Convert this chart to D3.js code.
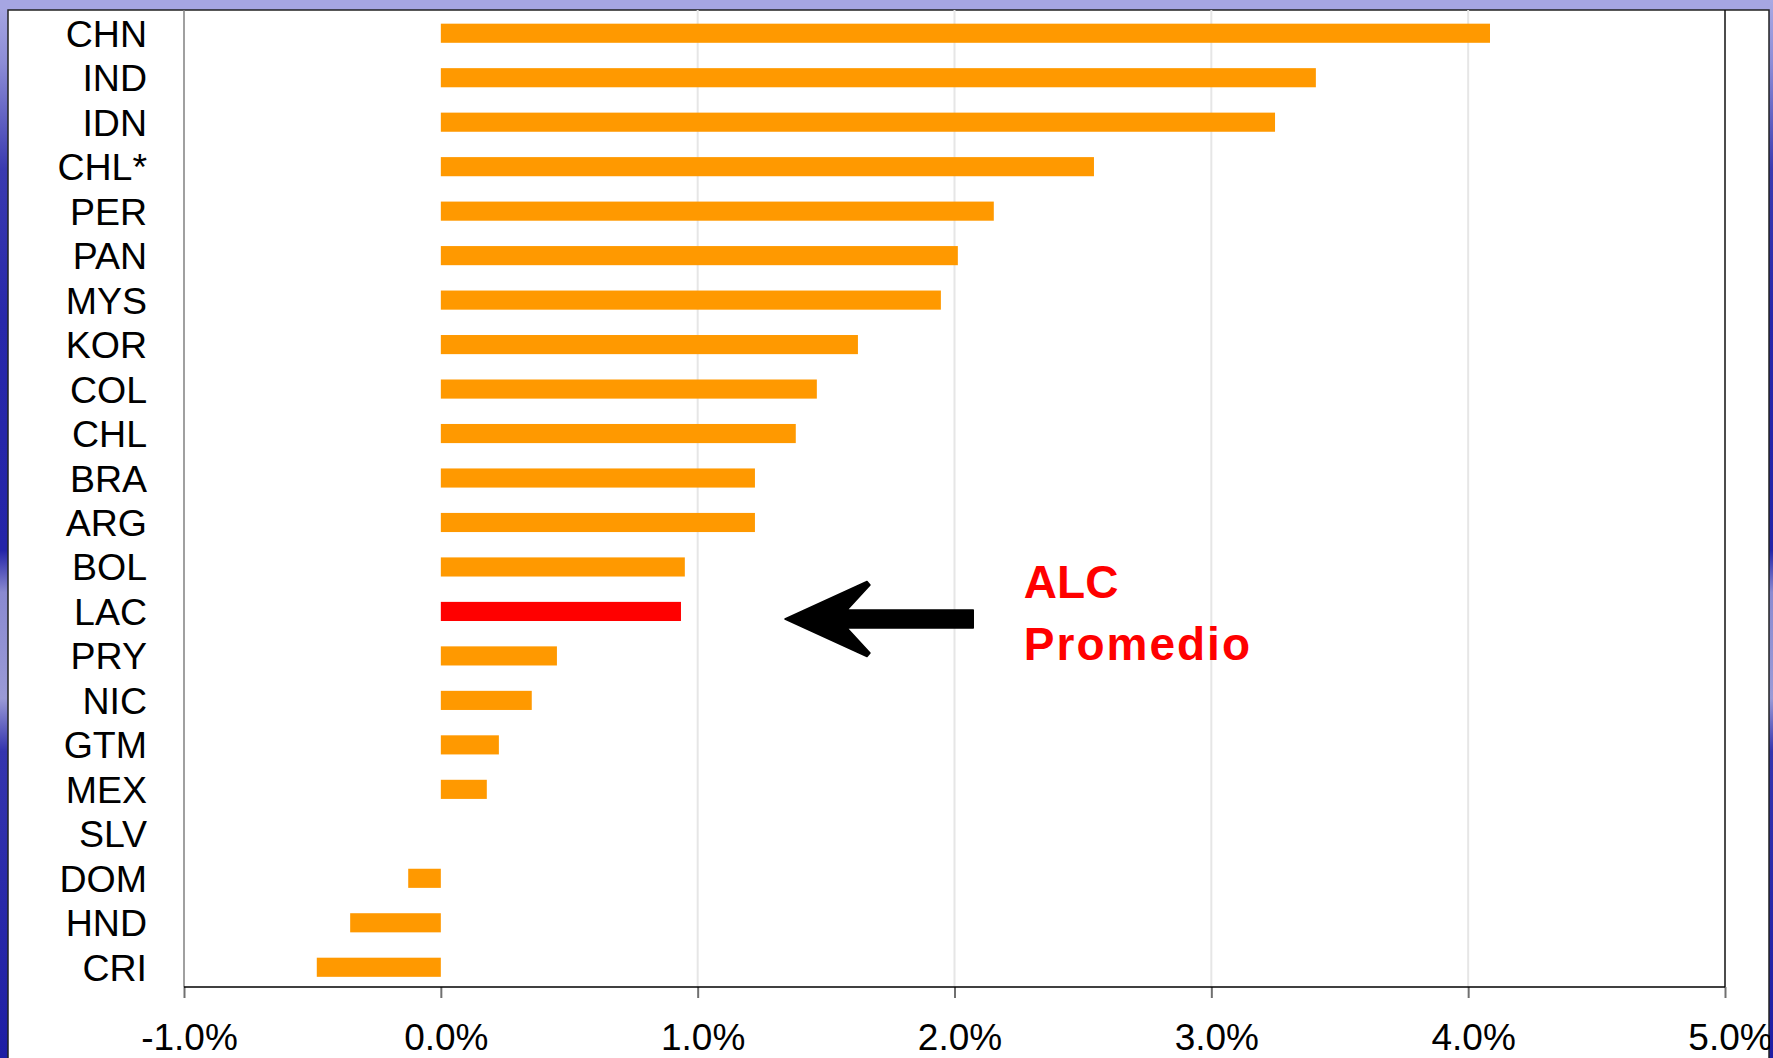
<!DOCTYPE html>
<html>
<head>
<meta charset="utf-8">
<style>
  body { margin: 0; background: #fff; }
  svg { display: block; font-family: "Liberation Sans", Arial, sans-serif; }
  .axis .domain { display: none; }
</style>
</head>
<body>
<div id="chart"></div>
<script src="https://d3js.org/d3.v7.min.js"></script>
<script>
// countries, top to bottom
var countries = ["CHN", "IND", "IDN", "CHL*", "PER", "PAN", "MYS", "KOR", "COL", "CHL", "BRA",
                 "ARG", "BOL", "LAC", "PRY", "NIC", "GTM", "MEX", "SLV", "DOM", "HND", "CRI"];
// growth, percent
var growth = [4.085, 3.407, 3.248, 2.543, 2.153, 2.013, 1.947, 1.624, 1.464, 1.382, 1.223,
              1.223, 0.950, 0.935, 0.452, 0.354, 0.226, 0.179, 0, -0.127, -0.353, -0.483];
var xTicks = [-1, 0, 1, 2, 3, 4, 5];
var highlight = "LAC";
var noteLines = ["ALC", "Promedio"];

var W = 1773, H = 1058;
var plot = { left: 184, right: 1725, top: 11, bottom: 987 };

var data = countries.map(function (c, i) { return { name: c, value: growth[i] }; });

var svg = d3.select("#chart").append("svg")
    .attr("width", W)
    .attr("height", H);

// blue slide background
var defs = svg.append("defs");
var bg = defs.append("linearGradient")
    .attr("id", "bg")
    .attr("x1", 0).attr("y1", 0).attr("x2", 0).attr("y2", 1);
[[0, "#a9a9e3"], [0.06, "#8c8cd6"], [0.16, "#3a3ab0"], [0.3, "#2828aa"], [0.52, "#2424a8"],
 [0.56, "#8a8ad0"], [0.66, "#9a9ad6"], [0.71, "#3434ae"], [1, "#1e1ea4"]].forEach(function (s) {
    bg.append("stop").attr("offset", s[0]).attr("stop-color", s[1]);
});
svg.append("rect").attr("width", W).attr("height", H).attr("fill", "url(#bg)");
svg.append("rect").attr("width", W).attr("height", 10).attr("fill", "#a6a6e2");

// white panel
svg.append("rect")
    .attr("x", 8).attr("y", 10)
    .attr("width", 1761).attr("height", H)
    .attr("fill", "#fff")
    .attr("stroke", "#222")
    .attr("stroke-width", 1.5);

var x = d3.scaleLinear()
    .domain([-1, 5])
    .range([plot.left, plot.right]);

var y = d3.scaleBand()
    .domain(countries)
    .range([plot.top, 989.5])
    .paddingInner(0.57)
    .paddingOuter(0.285);

var g = svg.append("g");

// gridlines
g.selectAll("line.grid")
    .data(xTicks.filter(function (d) { return d > 0 && d < 5; }))
    .enter().append("line")
    .attr("class", "grid")
    .attr("x1", function (d) { return x(d); })
    .attr("x2", function (d) { return x(d); })
    .attr("y1", 10)
    .attr("y2", plot.bottom)
    .attr("stroke", "#e6e6e6")
    .attr("stroke-width", 2);

// bars
g.selectAll("rect.bar")
    .data(data)
    .enter().append("rect")
    .attr("class", "bar")
    .attr("x", function (d) { return x(Math.min(0, d.value)); })
    .attr("y", function (d) { return y(d.name); })
    .attr("width", function (d) { return Math.abs(x(d.value) - x(0)); })
    .attr("height", y.bandwidth())
    .attr("fill", function (d) { return d.name === highlight ? "#ff0000" : "#ff9900"; });

// left and right frame lines
g.append("line")
    .attr("x1", x(-1)).attr("x2", x(-1))
    .attr("y1", 10).attr("y2", plot.bottom)
    .attr("stroke", "#808080").attr("stroke-width", 1.5);
g.append("line")
    .attr("x1", x(5)).attr("x2", x(5))
    .attr("y1", 10).attr("y2", plot.bottom)
    .attr("stroke", "#111").attr("stroke-width", 1.5);

// x axis
var xAxis = d3.axisBottom(x)
    .tickValues(xTicks)
    .tickSize(11)
    .tickFormat(function (d) { return d.toFixed(1) + "%"; });

var xg = svg.append("g")
    .attr("class", "x axis")
    .attr("transform", "translate(0," + plot.bottom + ")")
    .call(xAxis);
xg.selectAll(".tick line").attr("stroke", "#707070").attr("stroke-width", 2);
xg.selectAll(".tick text")
    .attr("y", 63)
    .attr("dy", 0)
    .attr("dx", 5)
    .style("font-size", "37px")
    .attr("fill", "#000");
xg.append("line")
    .attr("x1", x(-1)).attr("x2", x(5))
    .attr("stroke", "#000").attr("stroke-width", 1.5);

// y axis
var yAxis = d3.axisLeft(y).tickSize(0).tickPadding(37);
var yg = svg.append("g")
    .attr("class", "y axis")
    .attr("transform", "translate(" + plot.left + ",0)")
    .call(yAxis);
yg.selectAll(".tick text")
    .attr("dy", "0.36em")
    .style("font-size", "37.5px")
    .attr("fill", "#000");

// annotation: arrow pointing at LAC average
var cy = y(highlight) + y.bandwidth() / 2;
var tipX = x(1.34), tailX = x(2.073), ay = cy + 7.5;
var arrow = d3.path();
arrow.moveTo(tipX, ay);
arrow.lineTo(tipX + 82, ay - 37.5);
arrow.lineTo(tipX + 85, ay - 34);
arrow.lineTo(tipX + 62, ay - 9);
arrow.lineTo(tailX, ay - 9);
arrow.lineTo(tailX, ay + 9);
arrow.lineTo(tipX + 62, ay + 9);
arrow.lineTo(tipX + 85, ay + 34);
arrow.lineTo(tipX + 82, ay + 37.5);
arrow.closePath();
svg.append("path")
    .attr("d", arrow.toString())
    .attr("fill", "#000")
    .attr("stroke", "#000")
    .attr("stroke-width", 1.5)
    .attr("stroke-linejoin", "round");

svg.selectAll("text.note")
    .data(noteLines)
    .enter().append("text")
    .attr("class", "note")
    .attr("x", x(2.27))
    .attr("y", function (d, i) { return cy - 13.5 + i * 62.5; })
    .style("font-size", "46px")
    .style("font-weight", "bold")
    .style("letter-spacing", function (d, i) { return i ? "2px" : "0px"; })
    .attr("fill", "#ff0000")
    .text(function (d) { return d; });

// right slide strip drawn last so it clips the last tick label
svg.append("rect")
    .attr("x", 1770).attr("y", 0)
    .attr("width", 3).attr("height", H)
    .attr("fill", "url(#bg)");
</script>
</body>
</html>
